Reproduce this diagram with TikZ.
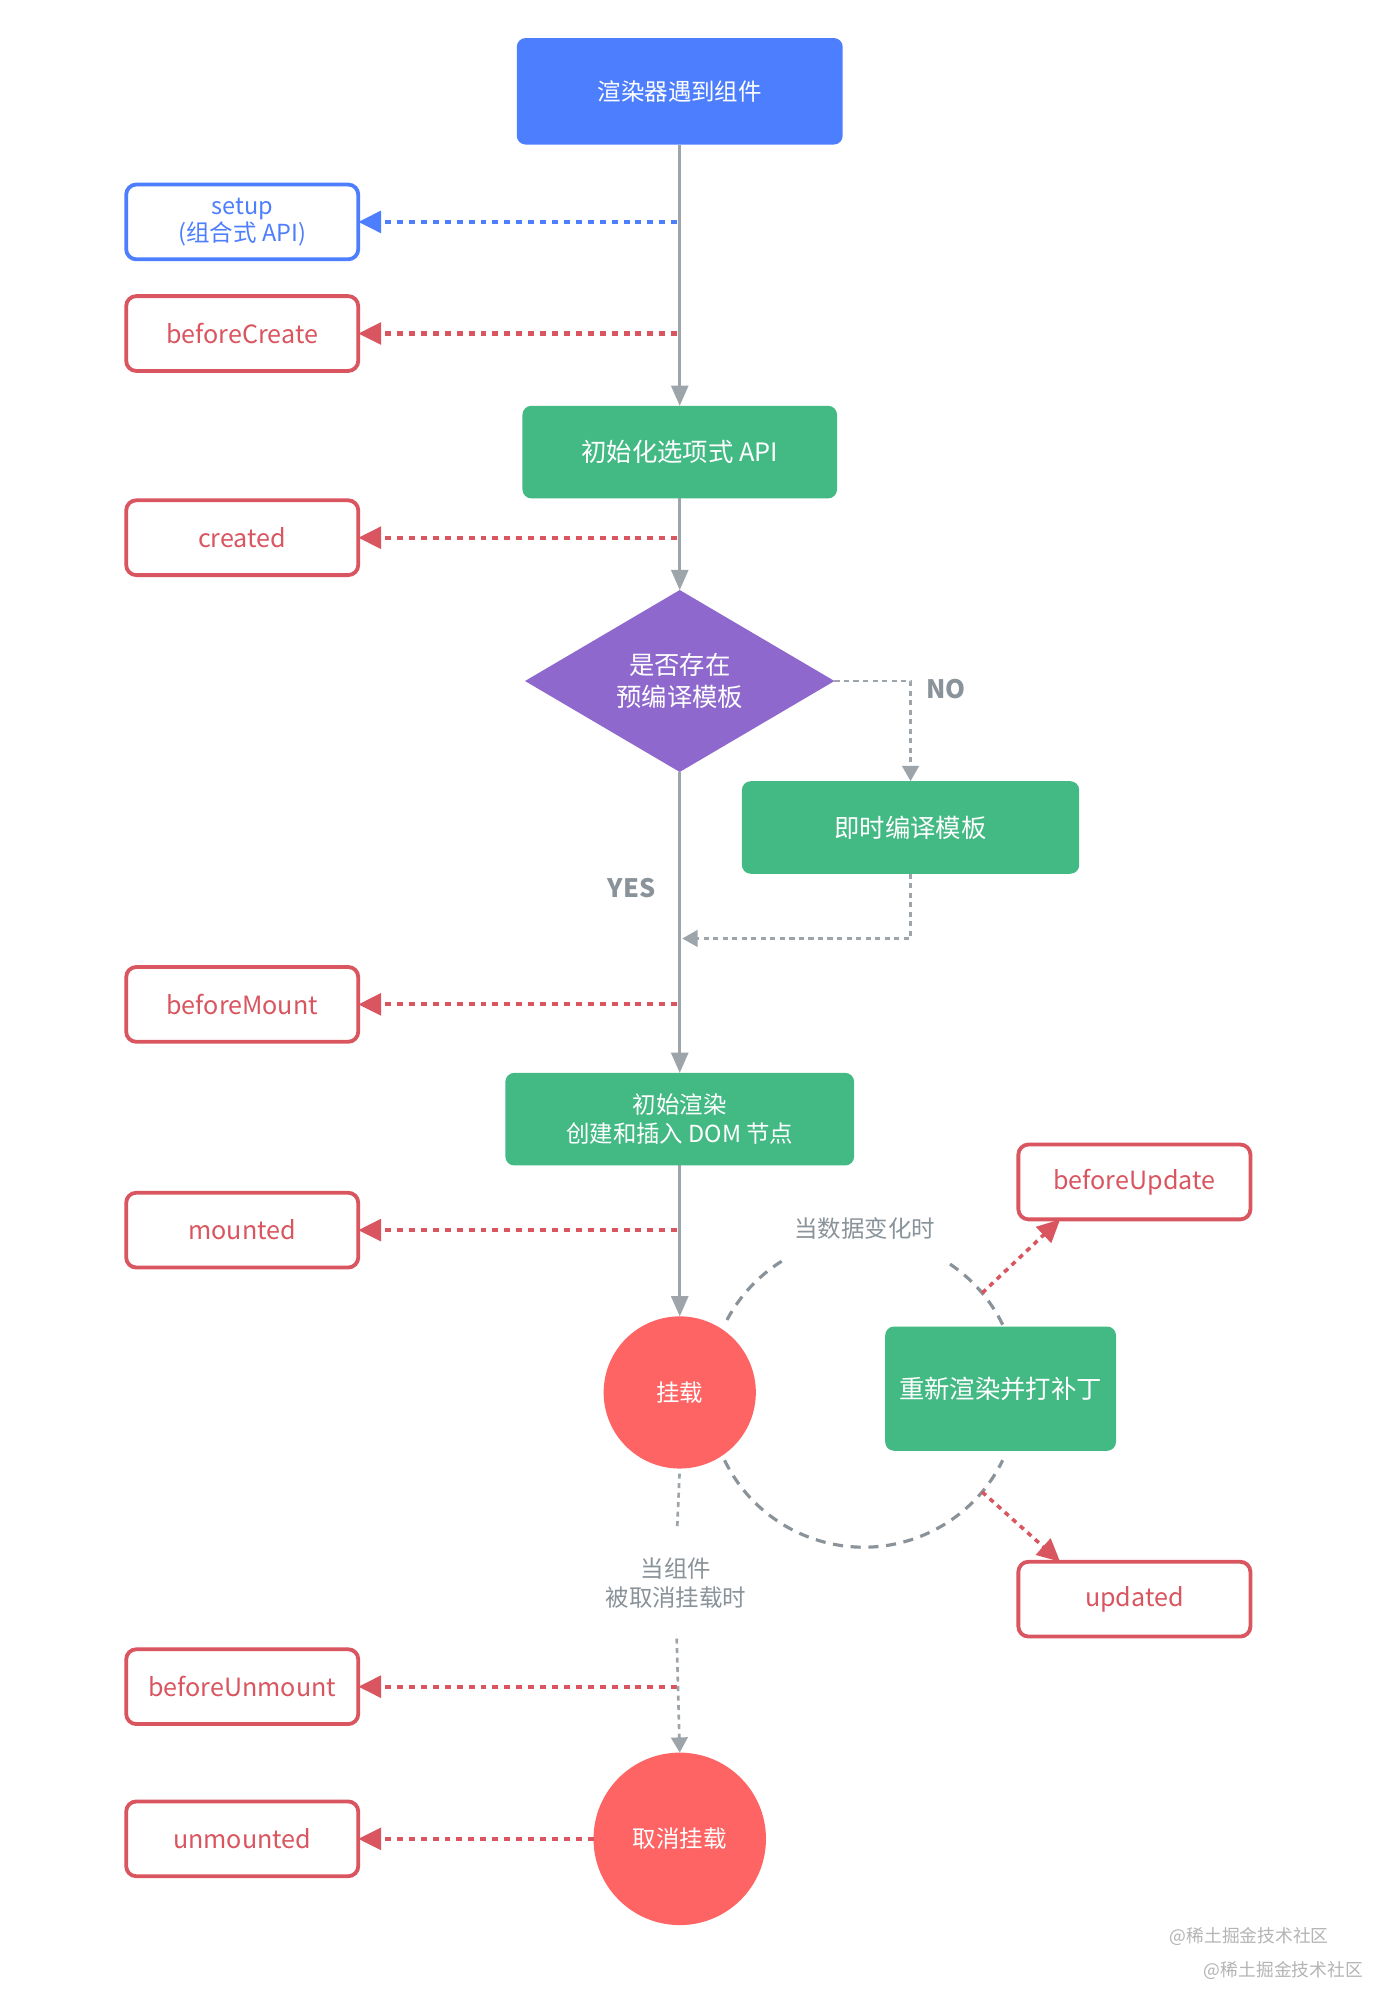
\documentclass[tikz,border=0pt]{standalone}
\usepackage{fontspec}
\setmainfont{Noto Sans CJK SC}
\usetikzlibrary{arrows.meta,calc,shapes.geometric}
\definecolor{vblue}{HTML}{4D7EFE}
\definecolor{vgreen}{HTML}{43B984}
\definecolor{vpurple}{HTML}{8E68CC}
\definecolor{vred}{HTML}{FE6464}
\definecolor{hookred}{HTML}{D9555F}
\definecolor{lgray}{HTML}{9EA5AA}
\definecolor{tgray}{HTML}{8A9399}
\definecolor{wmgray}{HTML}{B4B4B4}
\newcommand\fa{\fontsize{18.5}{23}\selectfont}
\newcommand\fb{\fontsize{20}{25}\selectfont}
\newcommand\fh{\fontsize{19.8}{23}\selectfont}
\begin{document}
\begin{tikzpicture}[x=1pt,y=-1pt,
  every node/.style={inner sep=0pt, outer sep=0pt},
  mainbox/.style={rounded corners=7pt, text=white, align=center, font=\fa},
  hookbox/.style={draw=hookred, line width=3pt, rounded corners=8pt, fill=white, text=hookred, minimum width=183pt, minimum height=59pt, align=center, font=\fh},
  mainline/.style={draw=lgray, line width=2pt, -{Triangle[length=16pt,width=13.5pt]}, lgray},
  graydash/.style={draw=lgray, line width=2.1pt, dash pattern=on 4pt off 3.5pt},
  grayarr/.style={graydash, -{Triangle[length=12pt,width=13pt]}, lgray},
  hookarr/.style={draw=hookred, line width=3.3pt, dash pattern=on 4.7pt off 4.7pt, -{Triangle[length=18pt,width=17pt]}, hookred},
  bluearr/.style={hookarr, draw=vblue, vblue},
  arcdash/.style={draw=tgray, line width=2.5pt, dash pattern=on 8pt off 6pt},
  lbl/.style={text=tgray, align=center, font=\fa},
  yn/.style={text=tgray, font=\fb\bfseries}
]
\fill[white] (0,0) rectangle (1085,1575.5);
\useasboundingbox (0,0) rectangle (1085,1575.5);

% main column nodes
\node[mainbox, fill=vblue, minimum width=257pt, minimum height=84pt] (top) at (536,72) {渲染器遇到组件};
\node[mainbox, fill=vgreen, minimum width=248pt, minimum height=73pt, font=\fb] (init1) at (536,356.5) {初始化选项式 API};
\node[diamond, fill=vpurple, minimum width=244pt, minimum height=132pt, text=white, align=center, font=\fb] (dia) at (536,537) {是否存在\\预编译模板};
\node[mainbox, fill=vgreen, minimum width=266pt, minimum height=73pt, font=\fb] (jit) at (718,652.5) {即时编译模板};
\node[mainbox, fill=vgreen, minimum width=275pt, minimum height=73pt] (init2) at (536,882.5) {初始渲染\\创建和插入 DOM 节点};
\node[circle, fill=vred, minimum size=120pt, text=white, font=\fa] (mount) at (536,1098) {挂载};
\node[mainbox, fill=vgreen, minimum width=182pt, minimum height=98pt, font=\fb] (patch) at (789,1095) {重新渲染并打补丁};
\node[circle, fill=vred, minimum size=136pt, text=white, font=\fa] (um) at (536,1450) {取消挂载};

% hook boxes
\node[hookbox, draw=vblue, text=vblue, font=\fontsize{18.5}{21}\selectfont] (setup) at (191,175) {setup\\(组合式 API)};
\node[hookbox] (bc) at (191,263) {beforeCreate};
\node[hookbox] (cr) at (191,424) {created};
\node[hookbox] (bm) at (191,792) {beforeMount};
\node[hookbox] (mt) at (191,970) {mounted};
\node[hookbox] (bum) at (191,1330) {beforeUnmount};
\node[hookbox] (unm) at (191,1450) {unmounted};
\node[hookbox] (bu) at (894.5,932) {beforeUpdate};
\node[hookbox] (ud) at (894.5,1261) {updated};

% labels
\node[yn] (no) at (746,543) {NO};
\node[yn] (yes) at (498,700) {YES};
\node[lbl] (chg) at (682,969) {当数据变化时};
\node[lbl] (unl) at (533,1248) {当组件\\被取消挂载时};
\node[text=wmgray, font=\fontsize{14}{16}\selectfont] (wm1) at (985,1527) {@稀土掘金技术社区};
\node[text=wmgray, font=\fontsize{14}{16}\selectfont] (wm2) at (1012,1554) {@稀土掘金技术社区};

% main flow
\draw[mainline] (top) -- (init1);
\draw[mainline] (init1) -- (dia.north);
\draw[mainline] (dia.south) -- (init2.north);
\draw[mainline] (init2) -- (mount);

% NO branch
\draw[grayarr] (dia.east) -| (jit.north);
\coordinate (jn) at (538,740);
\draw[grayarr] (jit.south) |- (jn);

% hook arrows
\draw[bluearr, shorten <=2pt] (top.south |- setup.east) -- (setup.east);
\draw[hookarr, shorten <=2pt] (top.south |- bc.east) -- (bc.east);
\draw[hookarr, shorten <=2pt] (init1.south |- cr.east) -- (cr.east);
\draw[hookarr, shorten <=2pt] (init2.north |- bm.east) -- (bm.east);
\draw[hookarr, shorten <=2pt] (init2.south |- mt.east) -- (mt.east);
\draw[hookarr, shorten <=2pt] (mount.south |- bum.east) -- (bum.east);
\draw[hookarr] (um.west |- unm.east) -- (unm.east);

% unmount path
\draw[graydash, shorten <=4pt, shorten >=22pt] (mount.south) -- (unl.north);
\draw[grayarr, shorten <=24pt] (unl.south) -- (um.north);

% update cycle
\coordinate (C) at (681,1098);
\draw[arcdash] ($(C)+(-122:122)$) arc[start angle=-122, end angle=-154, radius=122];
\draw[arcdash] ($(C)+(-26:122)$) arc[start angle=-26, end angle=-58, radius=122];
\draw[arcdash] ($(C)+(154:122)$) arc[start angle=154, end angle=26, radius=122];
\coordinate (ua) at ($(C)+(-40:122)$);
\coordinate (ub) at ($(bu.south west)!0.18!(bu.south east)$);
\coordinate (uc) at ($(C)+(40:122)$);
\coordinate (ud0) at ($(ud.north west)!0.18!(ud.north east)$);
\draw[hookarr, line width=2.8pt, dash pattern=on 4pt off 4pt] (ua) -- (ub);
\draw[hookarr, line width=2.8pt, dash pattern=on 4pt off 4pt] (uc) -- (ud0);
\end{tikzpicture}
\end{document}
